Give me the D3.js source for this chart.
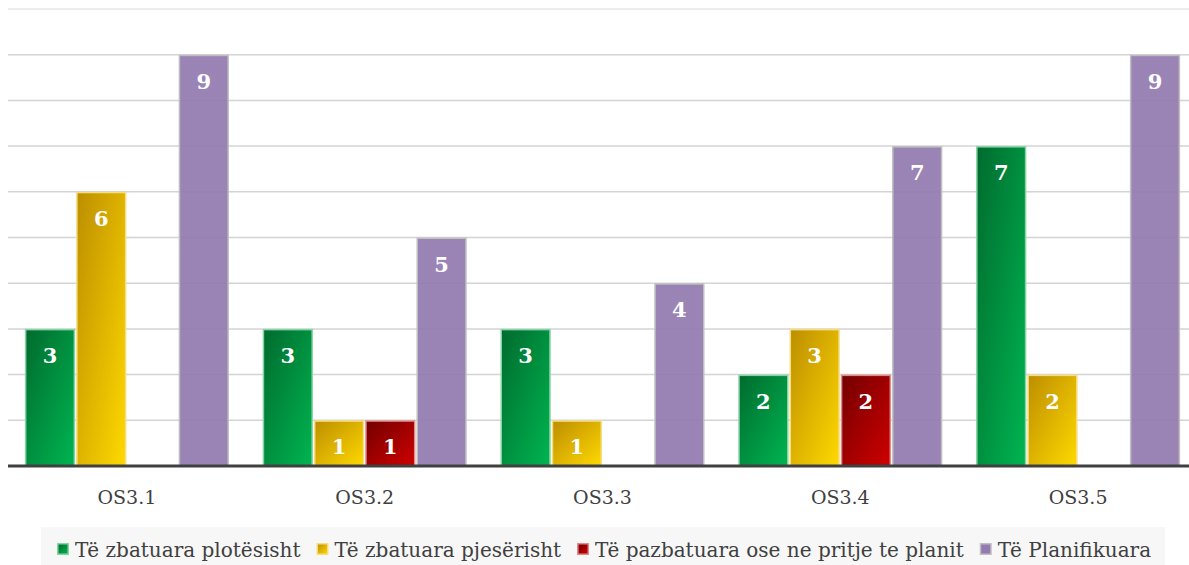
<!DOCTYPE html>
<html>
<head>
<meta charset="utf-8">
<script src="https://cdn.jsdelivr.net/npm/d3@7"></script>
<style>
  body { margin: 0; background: #fff; }
  svg { display: block; }
  text { font-family: "DejaVu Serif", "Liberation Serif", serif; }
</style>
</head>
<body>
<svg id="Vis" width="1189" height="565"></svg>
<script>
/*
* DATA
*/

const categories = ["OS3.1", "OS3.2", "OS3.3", "OS3.4", "OS3.5"];
const seriesNames = [
  "Të zbatuara plotësisht",
  "Të zbatuara pjesërisht",
  "Të pazbatuara ose ne pritje te planit",
  "Të Planifikuara"
];
const plotesisht = [3, 3, 3, 2, 7];
const pjeserisht = [6, 1, 1, 3, 2];
const pazbatuara = [0, 1, 0, 2, 0];
const planifikuara = [9, 5, 4, 7, 9];
const yTicks = [1, 2, 3, 4, 5, 6, 7, 8, 9, 10];

const seriesValues = [plotesisht, pjeserisht, pazbatuara, planifikuara];

/*
* SETUP
*/

const svg = d3.select("svg#Vis");
const defs = svg.append("defs");

// gradient colours per series: [dark, light, stroke]
const palette = [
  ["#006b2e", "#00b551", "#86d3a4"],
  ["#bd8e00", "#ffd900", "#f6dd80"],
  ["#730000", "#cf0000", "#e08a8a"],
  ["#937ab0", "#937ab0", "#bfbfbf"]
];

palette.forEach(function(c, i) {
  const grad = defs.append("linearGradient")
    .attr("id", "grad" + i)
    .attr("x1", 0).attr("y1", 0)
    .attr("x2", 1).attr("y2", 1);
  grad.append("stop").attr("offset", "0%").attr("stop-color", c[0]);
  grad.append("stop").attr("offset", "100%").attr("stop-color", c[1]);
});

const x0 = d3.scaleBand()
  .domain(categories)
  .range([8, 1197])
  .paddingInner(0.142)
  .paddingOuter(0.071);

const x1 = d3.scaleBand()
  .domain(d3.range(seriesNames.length))
  .range([0, x0.bandwidth()])
  .paddingInner(0.02);

const y = d3.scaleLinear()
  .domain([0, 10])
  .range([466, 9]);

/* Gridlines */
svg.append("g")
  .selectAll("line")
  .data(yTicks)
  .join("line")
    .attr("x1", 8)
    .attr("x2", 1189)
    .attr("y1", d => y(d))
    .attr("y2", d => y(d))
    .attr("stroke", d => d === 10 ? "#e6e6e6" : "#d4d4d4")
    .attr("stroke-width", 1.5);

/* Bars */
const groups = svg.append("g")
  .selectAll("g")
  .data(categories)
  .join("g")
    .attr("transform", d => translate(x0(d), 0));

groups.selectAll("rect")
  .data((cat, ci) => seriesValues.map((s, si) => ({si: si, v: s[ci]})))
  .join("rect")
    .filter(d => d.v > 0)
    .attr("x", d => x1(d.si) + 0.75)
    .attr("y", d => y(d.v) + 0.75)
    .attr("width", x1.bandwidth() - 1.5)
    .attr("height", d => y(0) - y(d.v) - 0.75)
    .attr("fill", d => "url(#grad" + d.si + ")")
    .attr("fill-opacity", d => d.si === 3 ? 0.93 : 1)
    .attr("stroke", d => palette[d.si][2])
    .attr("stroke-width", 1.5);

/* Value labels */
groups.selectAll("text")
  .data((cat, ci) => seriesValues.map((s, si) => ({si: si, v: s[ci]})).filter(d => d.v > 0))
  .join("text")
    .attr("x", d => x1(d.si) + x1.bandwidth() / 2)
    .attr("y", d => y(d.v) + 34)
    .attr("text-anchor", "middle")
    .attr("fill", "#fff")
    .attr("font-weight", "bold")
    .attr("font-size", 21)
    .text(d => d.v);

/* Axis */
const xAxis = svg.append("g")
  .attr("transform", translate(0, 466))
  .call(d3.axisBottom(x0).tickSize(0).tickPadding(0));

xAxis.select(".domain")
  .attr("d", "M8,0H1189")
  .attr("stroke", "#404040")
  .attr("stroke-width", 3);

xAxis.selectAll(".tick text")
  .attr("y", 38)
  .attr("dy", null)
  .attr("font-family", "DejaVu Serif, Liberation Serif, serif")
  .attr("font-size", 19)
  .attr("fill", "#404040");

/* Legend */
const legend = svg.append("g");

legend.append("rect")
  .attr("x", 41)
  .attr("y", 527)
  .attr("width", 1124)
  .attr("height", 40)
  .attr("fill", "#f7f7f7");

let lx = 57;
seriesNames.forEach(function(name, i) {
  const item = legend.append("g").attr("transform", translate(lx, 0));
  item.append("rect")
    .attr("x", 0.75)
    .attr("y", 543.75)
    .attr("width", 10.5)
    .attr("height", 10.5)
    .attr("fill", "url(#grad" + i + ")")
    .attr("stroke", palette[i][2])
    .attr("stroke-width", 1.5);
  const t = item.append("text")
    .attr("x", 18)
    .attr("y", 557)
    .attr("font-size", 20)
    .attr("fill", "#404040")
    .text(name);
  lx += 18 + t.node().getComputedTextLength() + 16;
});

/*
* HELPER FUNCTIONS
*/

function translate(x, y) {
  return 'translate(' + String(x) + ',' + String(y) + ')';
}
</script>
</body>
</html>
